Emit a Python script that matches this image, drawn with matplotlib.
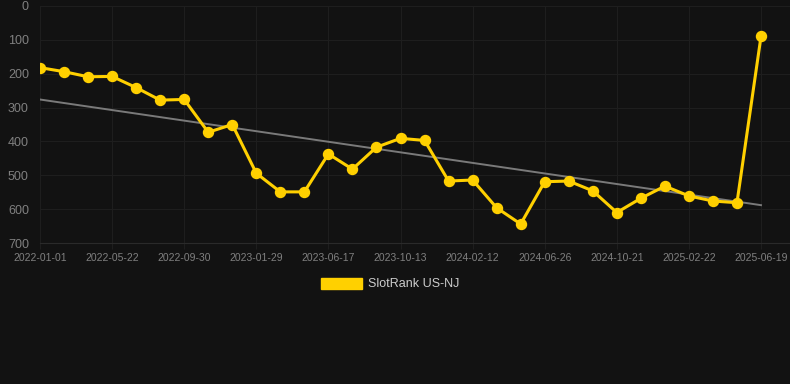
#!/usr/bin/env python3
"""SlotRank US-NJ rank history with a linear trend, dark theme."""

import matplotlib.pyplot as plt
import numpy as np

OUT = "out.png"

# Rank per sample (lower = better).
RANKS = [
    182, 194, 209, 208, 241, 278, 276, 373, 350, 494,
    549, 549, 437, 482, 417, 391, 397, 517, 514, 596,
    644, 519, 517, 546, 610, 568, 532, 561, 576, 581,
    90,
]
# Every third sample carries a date label.
TICK_LABELS = [
    "2022-01-01", "2022-05-22", "2022-09-30", "2023-01-29", "2023-06-17",
    "2023-10-13", "2024-02-12", "2024-06-26", "2024-10-21", "2025-02-22",
    "2025-06-19",
]
Y_TICKS = [0, 100, 200, 300, 400, 500, 600, 700]

BG = "#121212"
GRID = "#1e1e1e"
AXIS = "#2a2a2a"
TEXT = "#808080"
GOLD = "#ffd000"

plt.rcParams["font.family"] = ["Liberation Sans", "DejaVu Sans"]

x = np.arange(len(RANKS))
ranks = np.array(RANKS, dtype=float)
slope, icpt = np.polyfit(x, ranks, 1)

fig = plt.figure(figsize=(7.9, 3.84), dpi=100, facecolor=BG)
ax = fig.add_axes([40 / 790, 1 - 243 / 384, 1 - 40 / 790, (243 - 6) / 384])
ax.set_facecolor(BG)

ax.plot(x, slope * x + icpt, color="#7a7a7a", linewidth=1.4, zorder=2)
ax.plot(
    x, ranks, color=GOLD, linewidth=2.2, marker="o", markersize=7.2,
    zorder=3, label="SlotRank US-NJ",
)

ax.set_xlim(0, (790 - 40) / ((761 - 40) / 30))
ax.set_ylim(700, 0)
ax.set_yticks(Y_TICKS)
ax.set_xticks(x[::3])
ax.set_xticklabels(TICK_LABELS)

ax.grid(True, color=GRID, linewidth=0.8)
for side in ("top", "right", "left"):
    ax.spines[side].set_visible(False)
ax.spines["bottom"].set_color(AXIS)
ax.tick_params(axis="y", length=0, pad=8, labelsize=9, labelcolor=TEXT)
ax.tick_params(axis="x", length=4, color=GRID, pad=3, labelsize=7.5,
               labelcolor=TEXT)

fig.legend(
    handles=[plt.Rectangle((0, 0), 1, 1, color=GOLD)],
    labels=["SlotRank US-NJ"],
    loc="center", bbox_to_anchor=(390 / 790, 1 - 284 / 384),
    frameon=False, handlelength=3.3, handleheight=1.0, handletextpad=0.5,
    fontsize=9, labelcolor="#cccccc",
)

fig.savefig(OUT, dpi=100, facecolor=BG)
